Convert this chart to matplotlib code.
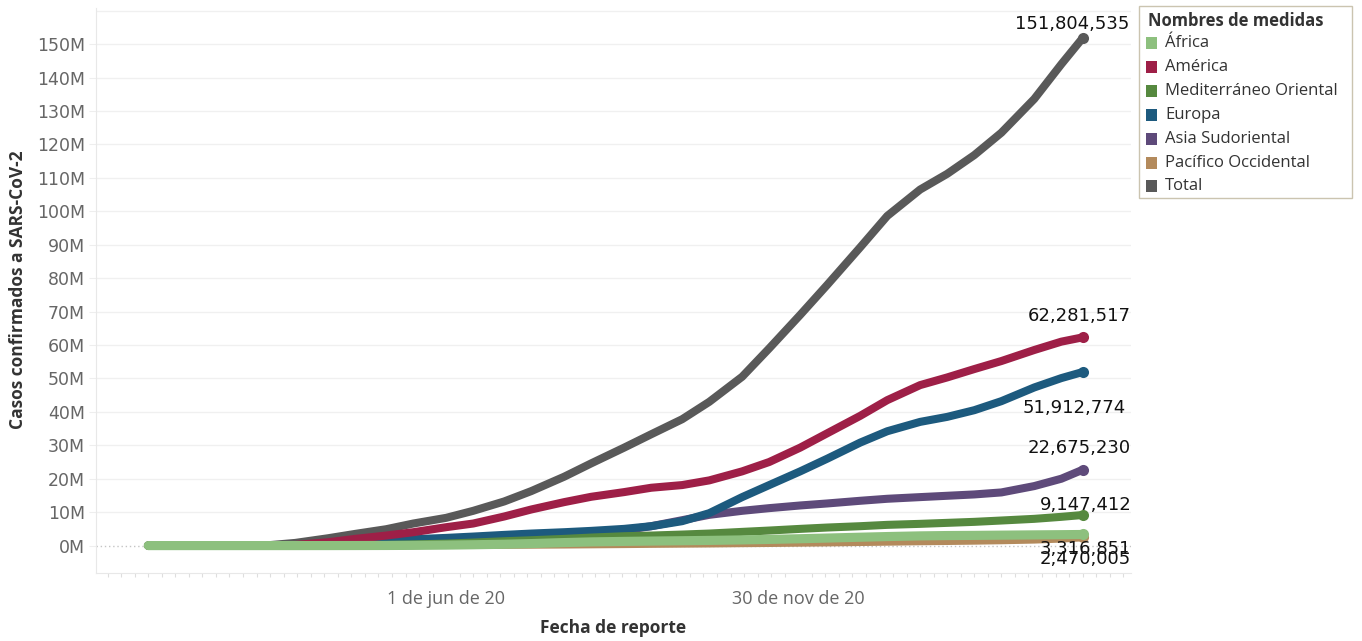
import matplotlib
matplotlib.use("Agg")
import matplotlib.pyplot as plt
import matplotlib.dates as mdates
import pandas as pd
from matplotlib.patches import Rectangle

# Casos acumulados (millones) por región OMS
fechas = pd.to_datetime([
    "2019-12-30", "2020-02-01", "2020-03-01", "2020-03-15", "2020-04-01", "2020-04-15",
    "2020-05-01", "2020-05-15", "2020-06-01", "2020-06-15", "2020-07-01", "2020-07-15",
    "2020-08-01", "2020-08-15", "2020-09-01", "2020-09-15", "2020-10-01", "2020-10-15",
    "2020-11-01", "2020-11-15", "2020-12-01", "2020-12-15", "2021-01-01", "2021-01-15",
    "2021-02-01", "2021-02-15", "2021-03-01", "2021-03-15", "2021-04-01", "2021-04-15",
    "2021-04-26",
])

africa = [0, 0, 0, 0.001, 0.005, 0.015, 0.035, 0.07, 0.15, 0.25, 0.4, 0.6, 0.9, 1.1, 1.25,
          1.35, 1.45, 1.55, 1.7, 1.85, 2.05, 2.25, 2.5, 2.7, 2.9, 3.0, 3.05, 3.12, 3.2, 3.26,
          3.316851]
america = [0, 0, 0.01, 0.2, 1.0, 2.0, 3.0, 4.0, 5.5, 6.6, 8.7, 10.8, 13.0, 14.6, 16.0, 17.3,
           18.1, 19.5, 22.2, 25.0, 29.3, 33.6, 38.8, 43.5, 48.0, 50.3, 52.8, 55.2, 58.5, 61.0,
           62.281517]
mediterraneo = [0, 0, 0.005, 0.02, 0.06, 0.12, 0.2, 0.35, 0.6, 0.9, 1.3, 1.6, 2.0, 2.4, 2.8,
                3.0, 3.3, 3.6, 4.1, 4.5, 5.0, 5.4, 5.8, 6.2, 6.5, 6.8, 7.1, 7.5, 8.0, 8.6,
                9.147412]
europa = [0, 0, 0.01, 0.1, 0.5, 1.0, 1.5, 1.9, 2.3, 2.7, 3.2, 3.6, 4.0, 4.4, 5.0, 5.8, 7.3,
          9.7, 14.5, 18.1, 22.2, 26.0, 30.8, 34.2, 37.0, 38.5, 40.5, 43.2, 47.3, 50.1,
          51.912774]
asia_sudoriental = [0, 0, 0, 0.01, 0.02, 0.05, 0.08, 0.15, 0.3, 0.5, 0.9, 1.4, 2.3, 3.2, 4.6,
                    5.8, 7.6, 9.2, 10.4, 11.2, 12.0, 12.6, 13.4, 14.0, 14.5, 14.9, 15.3, 15.9,
                    17.8, 20.0, 22.67523]
pacifico = [0, 0.012, 0.083, 0.09, 0.11, 0.13, 0.15, 0.165, 0.18, 0.2, 0.23, 0.27, 0.32, 0.38,
            0.45, 0.52, 0.58, 0.63, 0.72, 0.78, 0.87, 0.95, 1.07, 1.17, 1.3, 1.38, 1.48, 1.6,
            1.8, 2.1, 2.470005]
total = [0, 0.01, 0.1, 0.8, 2.2, 3.5, 4.9, 6.6, 8.3, 10.4, 13.2, 16.3, 20.6, 24.6, 29.3, 33.3,
         37.8, 43.0, 50.5, 59.0, 69.0, 78.0, 89.2, 98.6, 106.5, 111.2, 116.8, 123.5, 133.6,
         144.0, 151.804535]

nombres = ["África", "América", "Mediterráneo Oriental", "Europa", "Asia Sudoriental",
           "Pacífico Occidental", "Total"]
colores = ["#8dc07e", "#9e1f47", "#56893f", "#1d5a7e", "#5e4a7a", "#b38a5c", "#595959"]
valores = [africa, america, mediterraneo, europa, asia_sudoriental, pacifico, total]

# desplazamiento (px) de la etiqueta final respecto al último punto
etiqueta_offset = [(3, -15, "center"), (-3, 21, "center"), (3, 10, "center"),
                   (-8, -36, "center"), (-3, 22, "center"), (3, -22, "center"),
                   (47, 14, "right")]

W, H = 1362, 641
fig = plt.figure(figsize=(W / 100, H / 100), dpi=100)
ax = fig.add_axes([96 / W, 1 - 573 / H, (1131 - 96) / W, (573 - 8) / H])

# gridlines y línea de cero punteada
for v in range(10, 161, 10):
    ax.axhline(v, color="#f0f0f0", lw=1, zorder=0)
ax.axhline(0, color="#c4c4c4", lw=1, ls=(0, (1, 2)), zorder=0.5)

# dibujar de abajo hacia arriba: Total al fondo, África encima
for i in reversed(range(len(nombres))):
    vals = valores[i]
    lw = 6.6 if i == 0 else 5.8
    ax.plot(fechas, vals, color=colores[i], lw=lw, solid_capstyle="round",
            solid_joinstyle="round", zorder=2 + (len(nombres) - i))
    ax.plot(fechas[-1], vals[-1], "o", color=colores[i], ms=8, mec="none",
            zorder=2 + (len(nombres) - i))
    dx, dy, ha = etiqueta_offset[i]
    ax.annotate(f"{round(vals[-1] * 1e6):,}", xy=(fechas[-1], vals[-1]),
                xytext=(dx, dy), textcoords="offset pixels", ha=ha, va="center",
                fontsize=13, color="#111111", fontfamily="DejaVu Sans", zorder=20)

ax.set_xlim(pd.Timestamp("2019-12-03"), pd.Timestamp("2021-05-21"))
ax.set_ylim(-8.2, 160.8)

ax.set_yticks(range(0, 151, 10))
ax.set_yticklabels([f"{v}M" for v in range(0, 151, 10)], fontfamily="DejaVu Sans",
                   fontsize=12.5, color="#666666")
ax.tick_params(axis="y", length=5, color="#eeeeee", pad=3)

ax.set_xticks([pd.Timestamp("2020-06-01"), pd.Timestamp("2020-11-30")])
ax.set_xticklabels(["1 de jun de 20", "30 de nov de 20"], fontfamily="Open Sans",
                   fontsize=13, color="#666666")
ax.tick_params(axis="x", which="major", length=0, pad=12)
ax.xaxis.set_minor_locator(mdates.WeekdayLocator(byweekday=mdates.MO))
ax.tick_params(axis="x", which="minor", length=3, color="#dedede", width=0.8)

for s in ["top", "right"]:
    ax.spines[s].set_visible(False)
for s in ["left", "bottom"]:
    ax.spines[s].set_color("#e8e8e8")

titulo = dict(fontfamily="Open Sans", fontweight="bold", fontsize=12.5, color="#333333")
fig.text(18 / W, 1 - 290 / H, "Casos confirmados a SARS-CoV-2", rotation=90,
         ha="center", va="center", **titulo)
fig.text(613 / W, 1 - 628 / H, "Fecha de reporte", ha="center", va="center", **titulo)

# leyenda
fig.add_artist(Rectangle((1139 / W, 1 - 198 / H), (1352 - 1139) / W, (198 - 6) / H,
                         transform=fig.transFigure, facecolor="white",
                         edgecolor="#cbc4b0", lw=1))
fig.text(1148 / W, 1 - 21 / H, "Nombres de medidas", ha="left", va="center",
         fontfamily="Open Sans", fontweight="bold", fontsize=12, color="#333333")
filas_y = [43, 67, 91, 115, 139, 163, 186]
for nombre, color, yy in zip(nombres, colores, filas_y):
    fig.add_artist(Rectangle((1146 / W, 1 - (yy + 6) / H), 11 / W, 12 / H,
                             transform=fig.transFigure, facecolor=color, edgecolor="none"))
    fig.text(1165 / W, 1 - yy / H, nombre, ha="left", va="center",
             fontfamily="Open Sans", fontsize=12, color="#333333")

fig.savefig("out.png", dpi=100)
